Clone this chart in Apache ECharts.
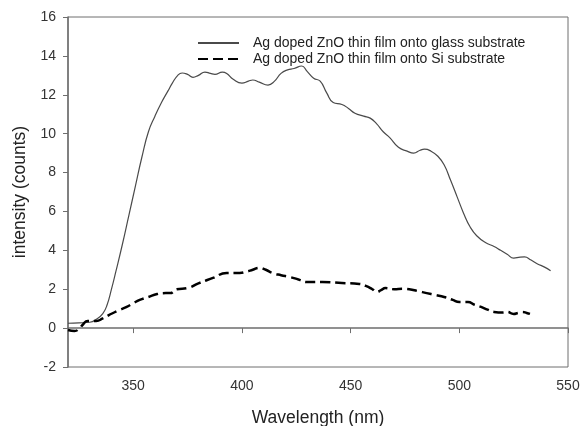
<!DOCTYPE html>
<html>
<head>
<meta charset="utf-8">
<script src="https://cdn.jsdelivr.net/npm/echarts@6/dist/echarts.min.js"></script>
<style>
  html, body { margin: 0; padding: 0; background: #fff; }
  #chart { width: 582px; height: 426px; }
</style>
</head>
<body>
<div id="chart"></div>
<script>
// wavelength (nm) / intensity pairs
const glass_wl = [320, 325, 330, 333, 336, 338, 340, 342, 345, 348, 351, 354, 357, 360, 363, 366, 368, 370.5, 372.5, 375, 377.5, 380, 383, 385.5, 387.6, 391, 393, 396, 400, 403, 405, 408, 412, 415, 418, 421, 424, 427.5, 430, 433, 436, 439, 442, 446, 449, 452, 456, 459, 462, 465, 468, 472, 476, 479, 482, 484, 487, 490, 493, 496, 499, 502, 505, 508, 512, 516, 519, 522, 525, 528, 530, 533, 536, 539, 542];
const glass_val = [0.25, 0.27, 0.3, 0.45, 0.75, 1.2, 2.0, 2.9, 4.3, 5.8, 7.3, 8.8, 10.1, 10.9, 11.6, 12.2, 12.6, 13.0, 13.12, 13.05, 12.9, 13.0, 13.17, 13.1, 13.05, 13.17, 13.1, 12.8, 12.6, 12.7, 12.76, 12.65, 12.5, 12.7, 13.1, 13.28, 13.35, 13.48, 13.2, 12.85, 12.7, 12.1, 11.6, 11.5, 11.3, 11.05, 10.9, 10.8, 10.5, 10.1, 9.8, 9.3, 9.1, 9.0, 9.15, 9.2, 9.1, 8.85, 8.4, 7.6, 6.75, 5.9, 5.2, 4.75, 4.4, 4.2, 4.0, 3.8, 3.6, 3.65, 3.66, 3.5, 3.3, 3.15, 2.95];

const si_wl = [320, 323, 325, 327, 329, 333, 336, 339, 343, 347, 350, 353, 357, 361, 365, 367, 370, 375, 380, 386.7, 393, 396, 399, 402, 405, 408, 411, 414, 418, 422, 426, 430, 437, 446, 454, 457, 460, 462, 464, 466, 470, 474, 477, 481, 485, 489, 493, 497, 500, 504, 507, 510, 513, 516, 520, 522, 525, 527, 529, 531, 532.5];
const si_val = [-0.1, -0.15, -0.05, 0.2, 0.37, 0.37, 0.5, 0.68, 0.9, 1.09, 1.28, 1.45, 1.6, 1.75, 1.8, 1.8, 2.0, 2.06, 2.3, 2.58, 2.84, 2.84, 2.84, 2.9, 3.0, 3.1, 3.0, 2.84, 2.72, 2.63, 2.5, 2.37, 2.37, 2.32, 2.27, 2.17, 2.0, 1.86, 1.95, 2.06, 2.0, 2.02, 2.0, 1.9, 1.8, 1.7, 1.6, 1.45, 1.34, 1.34, 1.2, 1.09, 0.95, 0.83, 0.8, 0.83, 0.73, 0.78, 0.83, 0.78, 0.73];

const series_names = [
    "Ag doped ZnO thin film onto glass substrate",
    "Ag doped ZnO thin film onto Si substrate",
];

const pairs = (xs, ys) => xs.map((x, i) => [x, ys[i]]);

const FONT = "Liberation Sans, Arial, sans-serif";
const AXIS_COLOR = "#6e6e6e";

const chart = echarts.init(document.getElementById("chart"), null, { renderer: "canvas" });

chart.setOption({
    animation: false,
    backgroundColor: "#fff",
    grid: {
        left: 68, right: 14, top: 17, bottom: 59,
        outerBoundsMode: "none", // keep the plot box where it is
        show: true, borderColor: AXIS_COLOR, borderWidth: 1,
    },
    legend: {
        orient: "vertical",
        left: 197, top: 36,
        padding: 0,
        itemGap: 2,
        itemWidth: 41, itemHeight: 14,
        itemStyle: { opacity: 0 }, // hide the symbol dot, keep the line
        textStyle: { fontFamily: FONT, fontSize: 14, color: "#222", padding: [0, 0, 0, 9] },
        data: series_names,
    },
    xAxis: {
        type: "value",
        min: 320, max: 550,
        minInterval: 50, maxInterval: 50,
        name: "Wavelength (nm)",
        nameLocation: "middle",
        nameGap: 42,
        nameTextStyle: { fontFamily: FONT, fontSize: 17.5, color: "#222" },
        axisLine: { lineStyle: { color: AXIS_COLOR, width: 1.5 } },
        axisTick: { length: 5, lineStyle: { color: AXIS_COLOR } },
        axisLabel: { showMinLabel: false, margin: 12, fontFamily: FONT, fontSize: 14, color: "#333" },
        splitLine: { show: false },
    },
    yAxis: {
        type: "value",
        min: -2, max: 16, interval: 2,
        name: "intensity (counts)",
        nameLocation: "middle",
        nameGap: 30,
        nameRotate: 90,
        nameTextStyle: { fontFamily: FONT, fontSize: 17.5, color: "#222" },
        axisLine: { show: true, lineStyle: { color: AXIS_COLOR, width: 1.5 } },
        axisTick: { show: true, length: 5, lineStyle: { color: AXIS_COLOR } },
        axisLabel: { margin: 12, fontFamily: FONT, fontSize: 14, color: "#333" },
        splitLine: { show: false },
    },
    series: [
        {
            name: series_names[0],
            type: "line",
            data: pairs(glass_wl, glass_val),
            symbol: "none",
            smooth: 0.5,
            lineStyle: { color: "#4a4a4a", width: 1.2 },
            itemStyle: { color: "#4a4a4a" },
        },
        {
            name: series_names[1],
            type: "line",
            data: pairs(si_wl, si_val),
            symbol: "none",
            smooth: 0.5,
            lineStyle: { color: "#000", width: 2.5, type: [10, 5] },
            itemStyle: { color: "#000" },
        },
    ],
});
</script>
</body>
</html>
